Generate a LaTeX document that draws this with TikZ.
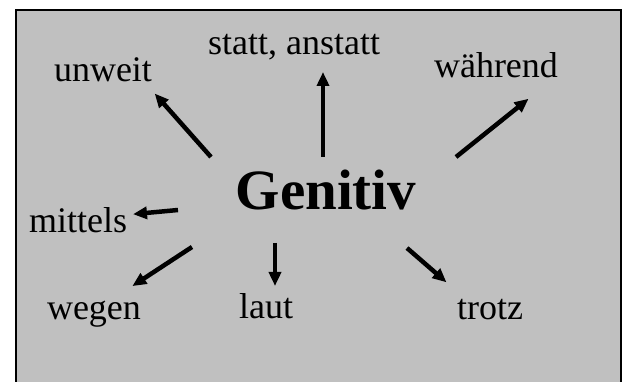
\documentclass[tikz,border=0pt]{standalone}
\usepackage{fontspec}
\setmainfont{Liberation Serif}
\usetikzlibrary{arrows.meta}
\definecolor{panelgray}{RGB}{192,192,192}
\begin{document}
\begin{tikzpicture}[x=1pt,y=-1pt,
  word/.style={anchor=base,inner sep=0pt,font=\fontsize{36}{40}\selectfont},
  title/.style={anchor=base,inner sep=0pt,font=\fontsize{57}{60}\selectfont\bfseries},
  arr/.style={line width=4.5pt,-{Triangle[length=14pt,width=12pt]},shorten >=-2pt}]
\useasboundingbox (0,0) rectangle (625,382);
\clip (0,0) rectangle (625,382);
\draw[line width=2.6pt,fill=panelgray] (16,10) rectangle (621,400);
\node[title] (gen) at (326,210) {Genitiv};
\node[word] (statt) at (294,55) {statt, anstatt};
\node[word] (unweit) at (103,82) {unweit};
\node[word] (waehrend) at (496,78) {während};
\node[word] (mittels) at (78,233) {mittels};
\node[word] (wegen) at (94,320) {wegen};
\node[word] (laut) at (266,319) {laut};
\node[word] (trotz) at (490,320) {trotz};
\coordinate (t1) at (323,157); \coordinate (h1) at (323,74);
\coordinate (t2) at (211,157); \coordinate (h2) at (156,95);
\coordinate (t3) at (456,157); \coordinate (h3) at (527,100);
\coordinate (t4) at (178,210); \coordinate (h4) at (135,214);
\coordinate (t5) at (192,247); \coordinate (h5) at (134,285);
\coordinate (t6) at (275,243); \coordinate (h6) at (275,284);
\coordinate (t7) at (407,248); \coordinate (h7) at (445,281);
\draw[arr] (t1) -- (h1);
\draw[arr] (t2) -- (h2);
\draw[arr] (t3) -- (h3);
\draw[arr] (t4) -- (h4);
\draw[arr] (t5) -- (h5);
\draw[arr] (t6) -- (h6);
\draw[arr] (t7) -- (h7);
\end{tikzpicture}
\end{document}
